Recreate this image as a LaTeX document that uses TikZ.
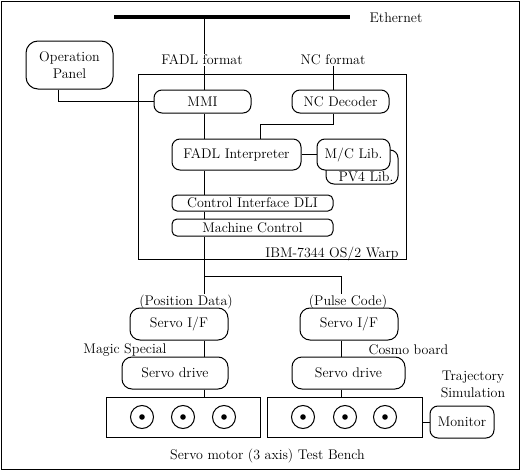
\documentclass[tikz,border=0pt]{standalone}
\begin{document}
\begin{tikzpicture}[x=1pt,y=-1pt,line width=1pt,
  every node/.style={font=\fontsize{14}{17}\selectfont},
  rbox/.style={draw, rounded corners=#1, fill=white, inner sep=0pt, align=center},
  rbox/.default=8pt,
  sbox/.style={draw, fill=white, inner sep=0pt},
  lbl/.style={inner sep=0pt, align=center},
  motor/.style={circle, draw, minimum size=23pt, inner sep=0pt,
    path picture={\fill (path picture bounding box.center) circle (2.8pt);}}]
\useasboundingbox (0,0) rectangle (520,471);
\draw (1,1) rectangle (519,469);

% Ethernet
\coordinate (eth1) at (114,17);
\coordinate (eth2) at (350,17);
\coordinate (bus) at (204,17);
\draw[line width=4pt] (eth1) -- (eth2);
\node[lbl] (ethlbl) at (396,18) {Ethernet};

% IBM box
\node[sbox, fill=none, minimum width=268pt, minimum height=185pt] (ibm) at (272,166.5) {};
\node[lbl, anchor=base east] (ibmlbl) at (399,257) {IBM-7344 OS/2 Warp};

% labels
\node[lbl] (fadlfmt) at (202,60) {FADL format};
\node[lbl] (ncfmt) at (333,60) {NC format};

% boxes
\node[rbox=12pt, minimum width=87pt, minimum height=48pt] (op) at (69.5,65) {Operation\\Panel};
\node[rbox, minimum width=97pt, minimum height=23pt] (mmi) at (202.5,101.5) {MMI};
\node[rbox, minimum width=97pt, minimum height=23pt] (ncdec) at (340.5,101.5) {NC Decoder};
\node[rbox, minimum width=129pt, minimum height=31pt] (fadl) at (236.5,154.5) {FADL Interpreter};
\node[rbox, minimum width=72pt, minimum height=34pt] (pv4) at (362,167) {};
\node[lbl] (pv4lbl) at (366,177) {PV4 Lib.};
\node[rbox, minimum width=73pt, minimum height=31pt] (mclib) at (353.5,154.5) {M/C Lib.};
\node[rbox=5pt, minimum width=161pt, minimum height=16pt] (cidli) at (252.5,203) {Control Interface DLI};
\node[rbox=5pt, minimum width=161pt, minimum height=17pt] (mc) at (252.5,227.5) {Machine Control};

\node[lbl] (posdata) at (186,302) {(Position Data)};
\node[lbl] (pulse) at (348,302) {(Pulse Code)};
\node[rbox=10pt, minimum width=98pt, minimum height=32pt] (sifL) at (179,324) {Servo I/F};
\node[rbox=10pt, minimum width=98pt, minimum height=32pt] (sifR) at (349,324) {Servo I/F};
\node[lbl] (magic) at (125,350) {Magic Special};
\node[lbl] (cosmo) at (408.5,350) {Cosmo board};
\node[rbox=10pt, minimum width=106pt, minimum height=32pt] (sdL) at (175,373) {Servo drive};
\node[rbox=10pt, minimum width=113pt, minimum height=32pt] (sdR) at (348.5,373) {Servo drive};
\node[lbl] (traj) at (473,384) {Trajectory\\Simulation};

\node[sbox, minimum width=154pt, minimum height=40pt] (benchL) at (183,417) {};
\node[sbox, minimum width=155pt, minimum height=40pt] (benchR) at (344.5,417) {};
\node[rbox, minimum width=64pt, minimum height=32pt] (mon) at (462,422) {Monitor};
\node[motor] (m1) at (142,417) {};
\node[motor] (m2) at (183,417) {};
\node[motor] (m3) at (224,417) {};
\node[motor] (m4) at (303,417) {};
\node[motor] (m5) at (345,417) {};
\node[motor] (m6) at (385,417) {};
\node[lbl] (benchlbl) at (267.5,456) {Servo motor (3 axis) Test Bench};

% connectors
\draw (bus) -- (bus |- fadlfmt.north);
\draw (bus |- fadlfmt.south) -- (bus |- mmi.north);
\draw (ncfmt.south) -- (ncfmt.south |- ncdec.north);
\draw ([xshift=-11.5pt]op.south) |- (mmi.west);
\draw (bus |- mmi.south) -- (bus |- fadl.north);
\draw (ncfmt.south |- ncdec.south) -- ++(0,11) -| ([xshift=23.5pt]fadl.north);
\draw (fadl.east) -- (mclib.west);
\draw (bus |- fadl.south) -- (bus |- cidli.north);
\draw (bus |- cidli.south) -- (bus |- mc.north);
\draw (bus |- mc.south) -- (bus |- posdata.north);
\coordinate (split) at (204,276);
\coordinate (rbus) at (341,276);
\draw (split) -- (rbus) -- (rbus |- pulse.north);
\draw (bus |- sifL.south) -- (bus |- sdL.north);
\draw (bus |- sdL.south) -- (bus |- benchL.north);
\draw (rbus |- sifR.south) -- (rbus |- sdR.north);
\draw (rbus |- sdR.south) -- (rbus |- benchR.north);
\draw (benchR.east |- mon.west) -- (mon.west);
\end{tikzpicture}
\end{document}
